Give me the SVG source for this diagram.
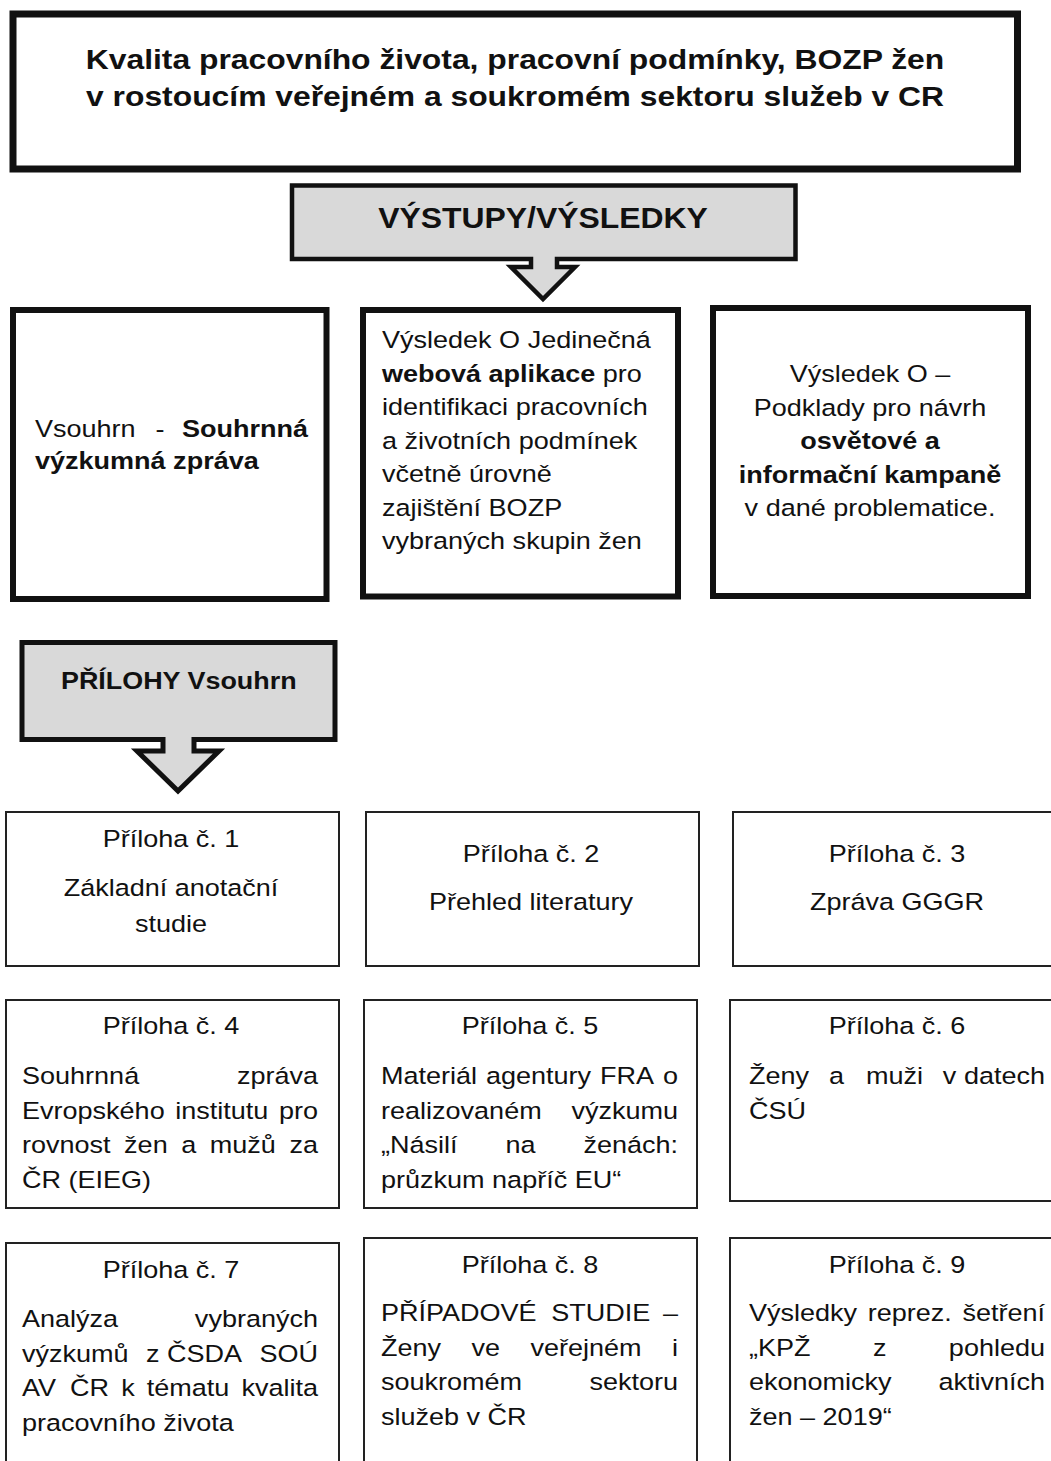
<svg xmlns="http://www.w3.org/2000/svg" width="1051" height="1461" viewBox="0 0 1051 1461">
<style>
.t{font-family:"Liberation Sans",Arial,sans-serif;fill:#111;}
.b{font-weight:bold;}
.r{font-size:23.5px;}
.m{text-anchor:middle;}
.e{text-anchor:end;}
.box{fill:#fff;stroke:#111;}
.thick{stroke-width:7;}
.mid{stroke-width:6;}
.thin{stroke-width:2;stroke:#222;}
.call{fill:#d9d9d9;stroke:#111;stroke-linejoin:miter;}
</style>
<rect width="1051" height="1461" fill="#fff"/>

<g id="title">
<rect class="box thick" x="13" y="14" width="1004.5" height="155"/>
<text class="t b m" font-size="27.7" transform="translate(515 69) scale(1.15 1)">Kvalita pracovního života, pracovní podmínky, BOZP žen</text>
<text class="t b m" font-size="27.7" transform="translate(515 106) scale(1.15 1)">v rostoucím veřejném a soukromém sektoru služeb v CR</text>
</g>

<g id="vystupy">
<path class="call" stroke-width="4.5" d="M292,185.5 H795.5 V259 H557 V267 H575 L543,299 L511,267 H531 V259 H292 Z"/>
<text class="t b m" font-size="29" transform="translate(543 228) scale(1.1 1)">VÝSTUPY/VÝSLEDKY</text>
</g>

<g id="vsouhrn">
<rect class="box mid" x="13" y="310" width="313.5" height="289"/>
<text class="t r" transform="translate(35 437) scale(1.15 1)">Vsouhrn</text>
<text class="t r m" transform="translate(160 437) scale(1.15 1)">-</text>
<text class="t r b e" transform="translate(308 437) scale(1.15 1)">Souhrnná</text>
<text class="t r b" transform="translate(35 469) scale(1.15 1)">výzkumná zpráva</text>
</g>

<g id="webova-aplikace">
<rect class="box mid" x="363" y="310" width="315" height="286.5"/>
<text class="t r" transform="translate(382 348) scale(1.15 1)">Výsledek O Jedinečná</text>
<text class="t r" transform="translate(382 381.5) scale(1.15 1)"><tspan class="b">webová aplikace</tspan> pro</text>
<text class="t r" transform="translate(382 415) scale(1.15 1)">identifikaci pracovních</text>
<text class="t r" transform="translate(382 448.5) scale(1.15 1)">a životních podmínek</text>
<text class="t r" transform="translate(382 482) scale(1.15 1)">včetně úrovně</text>
<text class="t r" transform="translate(382 515.5) scale(1.15 1)">zajištění BOZP</text>
<text class="t r" transform="translate(382 549) scale(1.15 1)">vybraných skupin žen</text>
</g>

<g id="kampan">
<rect class="box mid" x="713" y="308" width="315" height="288"/>
<text class="t r m" transform="translate(870 382) scale(1.15 1)">Výsledek O –</text>
<text class="t r m" transform="translate(870 415.5) scale(1.15 1)">Podklady pro návrh</text>
<text class="t r b m" transform="translate(870 449) scale(1.15 1)">osvětové a</text>
<text class="t r b m" transform="translate(870 482.5) scale(1.15 1)">informační kampaně</text>
<text class="t r m" transform="translate(870 516) scale(1.15 1)">v dané problematice.</text>
</g>

<g id="prilohy">
<path class="call" stroke-width="5" d="M22,642.5 H335 V739.5 H194 V751 H219 L178,791 L137,751 H163 V739.5 H22 Z"/>
<text class="t b" font-size="23.5" transform="translate(61 689) scale(1.145 1)">PŘÍLOHY Vsouhrn</text>
</g>

<g id="connectors"></g>

<g id="priloha1">
<rect class="box thin" x="6" y="812" width="333" height="154"/>
<text class="t r m" transform="translate(171 847) scale(1.15 1)">Příloha č. 1</text>
<text class="t r m" transform="translate(171 896) scale(1.15 1)">Základní anotační</text>
<text class="t r m" transform="translate(171 932) scale(1.15 1)">studie</text>
</g>
<g id="priloha2">
<rect class="box thin" x="366" y="812" width="333" height="154"/>
<text class="t r m" transform="translate(531 862) scale(1.15 1)">Příloha č. 2</text>
<text class="t r m" transform="translate(531 910) scale(1.15 1)">Přehled literatury</text>
</g>
<g id="priloha3">
<rect class="box thin" x="733" y="812" width="328" height="154"/>
<text class="t r m" transform="translate(897 862) scale(1.15 1)">Příloha č. 3</text>
<text class="t r m" transform="translate(897 910) scale(1.15 1)">Zpráva GGGR</text>
</g>

<g id="priloha4">
<rect class="box thin" x="6" y="1000" width="333" height="208"/>
<text class="t r m" transform="translate(171 1034) scale(1.15 1)">Příloha č. 4</text>
<text class="t r" transform="translate(22 1084) scale(1.15 1)">Souhrnná</text>
<text class="t r e" transform="translate(318 1084) scale(1.15 1)">zpráva</text>
<text class="t r" transform="translate(22 1118.5) scale(1.15 1)">Evropského</text>
<text class="t r" transform="translate(175.3 1118.5) scale(1.15 1)">institutu</text>
<text class="t r e" transform="translate(318 1118.5) scale(1.15 1)">pro</text>
<text class="t r" transform="translate(22 1153) scale(1.15 1)">rovnost</text>
<text class="t r" transform="translate(124.1 1153) scale(1.15 1)">žen</text>
<text class="t r" transform="translate(181.2 1153) scale(1.15 1)">a</text>
<text class="t r" transform="translate(209.8 1153) scale(1.15 1)">mužů</text>
<text class="t r e" transform="translate(318 1153) scale(1.15 1)">za</text>
<text class="t r" transform="translate(22 1187.5) scale(1.15 1)">ČR (EIEG)</text>
</g>

<g id="priloha5">
<rect class="box thin" x="364" y="1000" width="333" height="208"/>
<text class="t r m" transform="translate(530 1034) scale(1.15 1)">Příloha č. 5</text>
<text class="t r" transform="translate(381 1084) scale(1.15 1)">Materiál</text>
<text class="t r" transform="translate(486 1084) scale(1.15 1)">agentury</text>
<text class="t r" transform="translate(600.1 1084) scale(1.15 1)">FRA</text>
<text class="t r e" transform="translate(678 1084) scale(1.15 1)">o</text>
<text class="t r" transform="translate(381 1118.5) scale(1.15 1)">realizovaném</text>
<text class="t r e" transform="translate(678 1118.5) scale(1.15 1)">výzkumu</text>
<text class="t r" transform="translate(381 1153) scale(1.15 1)">„Násilí</text>
<text class="t r" transform="translate(505.4 1153) scale(1.15 1)">na</text>
<text class="t r e" transform="translate(678 1153) scale(1.15 1)">ženách:</text>
<text class="t r" transform="translate(381 1187.5) scale(1.15 1)">průzkum napříč EU“</text>
</g>

<g id="priloha6">
<rect class="box thin" x="730" y="1000" width="331" height="201"/>
<text class="t r m" transform="translate(897 1034) scale(1.15 1)">Příloha č. 6</text>
<text class="t r" transform="translate(749 1084) scale(1.15 1)">Ženy</text>
<text class="t r" transform="translate(829 1084) scale(1.15 1)">a</text>
<text class="t r" transform="translate(866 1084) scale(1.15 1)">muži</text>
<text class="t r e" transform="translate(1045 1084) scale(1.15 1)">v datech</text>
<text class="t r" transform="translate(749 1118.5) scale(1.15 1)">ČSÚ</text>
</g>

<g id="priloha7">
<rect class="box thin" x="6" y="1243" width="333" height="240"/>
<text class="t r m" transform="translate(171 1278) scale(1.15 1)">Příloha č. 7</text>
<text class="t r" transform="translate(22 1327) scale(1.15 1)">Analýza</text>
<text class="t r e" transform="translate(318 1327) scale(1.15 1)">vybraných</text>
<text class="t r" transform="translate(22 1361.5) scale(1.15 1)">výzkumů</text>
<text class="t r" transform="translate(146 1361.5) scale(1.15 1)">z ČSDA</text>
<text class="t r e" transform="translate(318 1361.5) scale(1.15 1)">SOÚ</text>
<text class="t r" transform="translate(22 1396) scale(1.15 1)">AV</text>
<text class="t r" transform="translate(70.1 1396) scale(1.15 1)">ČR</text>
<text class="t r" transform="translate(121.2 1396) scale(1.15 1)">k</text>
<text class="t r" transform="translate(146.8 1396) scale(1.15 1)">tématu</text>
<text class="t r e" transform="translate(318 1396) scale(1.15 1)">kvalita</text>
<text class="t r" transform="translate(22 1430.5) scale(1.15 1)">pracovního života</text>
</g>

<g id="priloha8">
<rect class="box thin" x="364" y="1238" width="333" height="245"/>
<text class="t r m" transform="translate(530 1273) scale(1.15 1)">Příloha č. 8</text>
<text class="t r" transform="translate(381 1321) scale(1.15 1)">PŘÍPADOVÉ</text>
<text class="t r" transform="translate(551.3 1321) scale(1.15 1)">STUDIE</text>
<text class="t r e" transform="translate(678 1321) scale(1.15 1)">–</text>
<text class="t r" transform="translate(381 1355.5) scale(1.15 1)">Ženy</text>
<text class="t r" transform="translate(471.5 1355.5) scale(1.15 1)">ve</text>
<text class="t r" transform="translate(530.5 1355.5) scale(1.15 1)">veřejném</text>
<text class="t r e" transform="translate(678 1355.5) scale(1.15 1)">i</text>
<text class="t r" transform="translate(381 1390) scale(1.15 1)">soukromém</text>
<text class="t r e" transform="translate(678 1390) scale(1.15 1)">sektoru</text>
<text class="t r" transform="translate(381 1424.5) scale(1.15 1)">služeb v ČR</text>
</g>

<g id="priloha9">
<rect class="box thin" x="730" y="1238" width="331" height="245"/>
<text class="t r m" transform="translate(897 1273) scale(1.15 1)">Příloha č. 9</text>
<text class="t r" transform="translate(749 1321) scale(1.15 1)">Výsledky</text>
<text class="t r" transform="translate(867.8 1321) scale(1.15 1)">reprez.</text>
<text class="t r e" transform="translate(1045 1321) scale(1.15 1)">šetření</text>
<text class="t r" transform="translate(749 1355.5) scale(1.15 1)">„KPŽ</text>
<text class="t r" transform="translate(873 1355.5) scale(1.15 1)">z</text>
<text class="t r e" transform="translate(1045 1355.5) scale(1.15 1)">pohledu</text>
<text class="t r" transform="translate(749 1390) scale(1.15 1)">ekonomicky</text>
<text class="t r e" transform="translate(1045 1390) scale(1.15 1)">aktivních</text>
<text class="t r" transform="translate(749 1424.5) scale(1.15 1)">žen – 2019“</text>
</g>
</svg>
